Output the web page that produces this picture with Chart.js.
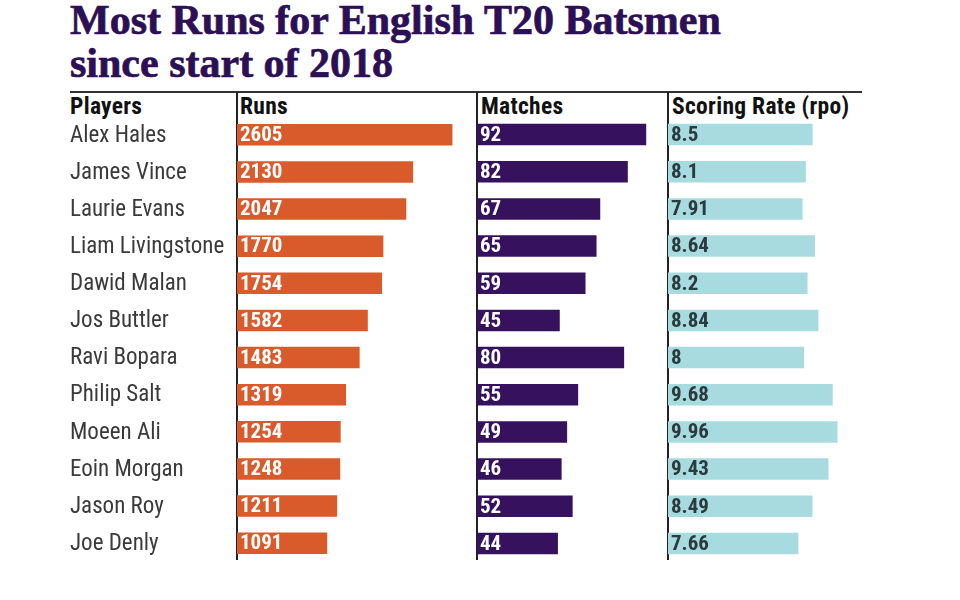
<!DOCTYPE html>
<html>
<head>
<meta charset="utf-8">
<script src="https://cdn.jsdelivr.net/npm/chart.js@4.4.1/dist/chart.umd.min.js"></script>
<style>
  html, body { margin: 0; padding: 0; background: #ffffff; }
  body { width: 960px; height: 600px; position: relative; overflow: hidden; }
  #title { position: absolute; left: 70px; top: -1px; font-family: 'Liberation Serif', 'DejaVu Serif', serif; font-weight: bold; font-size: 42px; line-height: 43px; color: #2c0f54; letter-spacing: 0px; -webkit-text-stroke: 0.7px #2c0f54; white-space: nowrap; }
  .hdr { position: absolute; top: 92px; font-family: 'Roboto Condensed', 'DejaVu Sans Condensed', 'Liberation Sans Narrow', Roboto, sans-serif; font-weight: bold; font-size: 23.5px; letter-spacing: 0.3px; color: #111; line-height: 28px; }
  .hline { position: absolute; left: 70px; top: 91px; width: 792px; height: 1.5px; background: #333; }
  .vline { position: absolute; top: 92px; width: 1.5px; height: 468px; background: #222; }
  .box { position: absolute; top: 116px; height: 446px; }
</style>
</head>
<body>
<div id="title">Most Runs for English T20 Batsmen<br>since start of 2018</div>
<div class="hline"></div>
<div class="hdr" style="left:70px">Players</div>
<div class="hdr" style="left:240px">Runs</div>
<div class="hdr" style="left:481px">Matches</div>
<div class="hdr" style="left:672px">Scoring Rate (rpo)</div>
<div class="vline" style="left:236px"></div>
<div class="vline" style="left:476px"></div>
<div class="vline" style="left:667px"></div>
<div class="box" style="left:70px;width:406px"><canvas id="c1"></canvas></div>
<div class="box" style="left:477px;width:190px"><canvas id="c2"></canvas></div>
<div class="box" style="left:668px;width:194px"><canvas id="c3"></canvas></div>
<script>
const players = ['Alex Hales','James Vince','Laurie Evans','Liam Livingstone','Dawid Malan','Jos Buttler','Ravi Bopara','Philip Salt','Moeen Ali','Eoin Morgan','Jason Roy','Joe Denly'];
const runs = [2605,2130,2047,1770,1754,1582,1483,1319,1254,1248,1211,1091];
const matches = [92,82,67,65,59,45,80,55,49,46,52,44];
const rates = [8.5,8.1,7.91,8.64,8.2,8.84,8,9.68,9.96,9.43,8.49,7.66];

const COND = "'Roboto Condensed', 'DejaVu Sans Condensed', 'Liberation Sans Narrow', Roboto, sans-serif";

const valueLabels = {
  id: 'valueLabels',
  afterDatasetsDraw(chart, args, opts) {
    const ctx = chart.ctx;
    const meta = chart.getDatasetMeta(0);
    const data = chart.data.datasets[0].data;
    ctx.save();
    ctx.font = 'bold 21px ' + COND;
    ctx.fillStyle = opts.color;
    ctx.textAlign = 'left';
    ctx.textBaseline = 'middle';
    meta.data.forEach((bar, i) => {
      ctx.fillText(String(data[i]), bar.base + 3, bar.y + 1);
    });
    ctx.restore();
  }
};

function makeChart(id, values, color, labelColor, max, showNames) {
  const yScale = {
    display: showNames,
    grid: { display: false },
    border: { display: false },
    ticks: { crossAlign: 'far', padding: 0, labelOffset: 1, color: '#3a3a3a', font: { family: COND, size: 23, lineHeight: 0.02 } }
  };
  if (showNames) yScale.afterFit = function (scale) { scale.width = 167; };
  return new Chart(document.getElementById(id), {
    type: 'bar',
    data: { labels: players, datasets: [{ data: values, backgroundColor: color, borderWidth: 0, categoryPercentage: 1, barPercentage: 0.58 }] },
    options: {
      indexAxis: 'y',
      responsive: true,
      maintainAspectRatio: false,
      animation: false,
      layout: { padding: 0 },
      plugins: { legend: { display: false }, tooltip: { enabled: false }, valueLabels: { color: labelColor } },
      scales: {
        x: { display: false, min: 0, max: max },
        y: yScale
      }
    },
    plugins: [valueLabels]
  });
}

makeChart('c1', runs, '#d95b2b', '#ffffff', 2890, true);
makeChart('c2', matches, '#36125e', '#ffffff', 103.3, false);
makeChart('c3', rates, '#a8dbdf', '#2b3a3c', 11.4, false);
</script>
</body>
</html>
